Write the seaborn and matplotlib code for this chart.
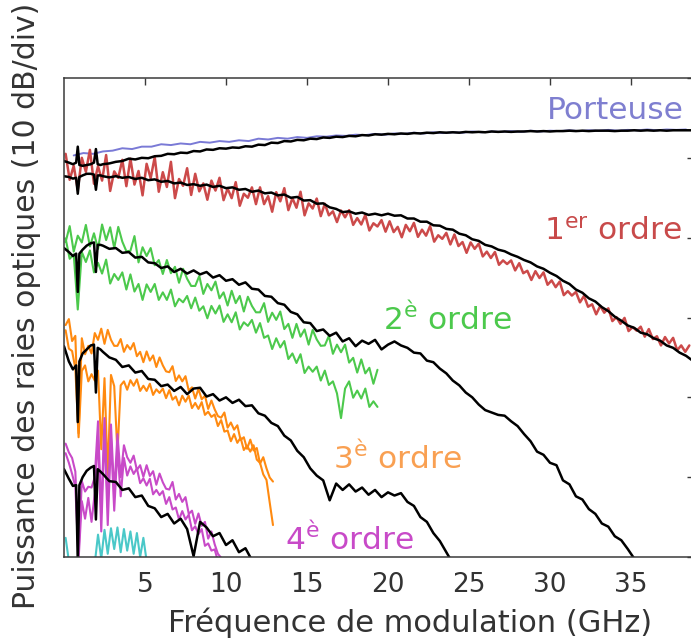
import numpy as np
import matplotlib
matplotlib.use("Agg")
import matplotlib.pyplot as plt
import seaborn as sns

# ---------------------------------------------------------------------------
# Frequency grids (GHz)
# ---------------------------------------------------------------------------
# simulation grid: finer around the two low-frequency resonances, then 0.4 GHz steps
SIM_FREQ_HEAD = [0.0, 0.3, 0.55, 0.75, 0.85, 0.95, 1.15, 1.4, 1.65, 1.85, 1.97, 2.08, 2.25]
SIM_FREQ_TAIL_START, SIM_FREQ_TAIL_STEP = 2.4, 0.4

# measured sweeps: (start, step) in GHz
SWEEP_CARRIER = (0.6, 0.6)
SWEEP_ORDER1 = (0.1, 0.25)
SWEEP_ORDER2 = (0.1, 0.25)
SWEEP_ORDER3 = (0.1, 0.2)
SWEEP_ORDER4 = (0.1, 0.2)
SWEEP_ORDER5 = (0.1, 0.2)

# ---------------------------------------------------------------------------
# Measured line powers (dB, relative)
# ---------------------------------------------------------------------------
meas_carrier = [-9.7, -9.4, -9.5, -9.2, -9.1, -8.8, -8.9, -8.6, -8.6, -8.3, -8.4, -8.2,
                -8.3, -8.0, -8.1, -7.9, -8.0, -7.8, -7.9, -7.6, -7.7, -7.5, -7.6, -7.4,
                -7.5, -7.3, -7.35, -7.2, -7.25, -7.1, -7.15, -7.0, -7.1, -6.95, -7.0, -6.85,
                -6.95, -6.8, -6.9, -6.8, -6.85, -6.7, -6.8, -6.7, -6.75, -6.65, -6.75, -6.6,
                -6.7, -6.6, -6.65, -6.55, -6.65, -6.55, -6.6, -6.5, -6.6, -6.5, -6.55, -6.45,
                -6.55, -6.45, -6.5, -6.45]

meas_order1 = [-9.5, -12.75, -11.0, -14.0, -10.0, -11.75, -9.0, -13.25, -11.05, -12.85, -9.65, -14.15,
               -11.7, -12.5, -10.25, -13.55, -10.1, -13.35, -11.65, -14.7, -10.75, -12.55, -9.9, -14.25,
               -11.8, -13.65, -10.5, -15.05, -12.65, -13.5, -11.3, -14.65,
               -12.0, -14.2, -13.2, -15.25, -12.85, -14.1, -12.5, -15.3, -13.85, -15.05, -13.05, -16.0,
               -14.5, -15.0, -13.7, -15.8, -13.7, -15.8, -14.8, -16.75, -14.3, -15.45, -13.8, -16.55,
               -15.05, -16.25, -14.25, -17.2, -15.7, -16.35, -15.1, -17.3,
               -15.75, -17.2, -16.7, -18.05, -16.6, -17.45, -16.55, -18.4, -17.55, -18.35, -17.15, -19.1,
               -18.2, -18.6, -17.8, -19.25, -17.95, -19.3, -18.65, -19.95, -18.4, -19.2, -18.15, -19.9,
               -19.0, -19.75, -18.55, -20.5, -19.7, -20.15, -19.4, -20.85, -19.6, -21.05, -20.55, -21.9,
               -20.6, -21.4, -20.75, -22.35, -21.75, -22.55, -21.8, -23.4, -22.85, -23.3, -22.85, -24.1,
               -23.2, -24.45, -24.15, -25.3, -24.2, -25.05, -24.35, -25.9, -25.35, -26.2, -25.5, -27.2,
               -26.7, -27.25, -26.8, -28.1, -27.3, -28.65, -28.35, -29.6, -28.55, -29.4, -28.85, -30.45,
               -29.95, -30.8, -30.05, -31.7, -31.2, -31.65, -31.15, -32.4, -31.45, -32.7, -32.35, -33.5,
               -32.45, -33.25, -32.55, -34.1, -33.5, -34.3, -33.5]

meas_order2_a = [-20.55, -18.55, -21.75, -19.75, -20.6, -18.4, -21.1, -19.45, -21.4, -18.35, -20.3, -18.7,
                 -21.3, -18.65, -20.5, -21.7, -21.65, -19.8, -23.1, -21.2,
                 -22.3, -21.3, -23.45, -22.8, -24.55, -22.8, -24.45, -23.65, -25.65, -23.9, -25.15, -26.05,
                 -26.05, -24.8, -27.05, -25.8, -26.6, -25.5, -27.6, -26.85, -28.5, -26.65, -28.2, -27.3,
                 -29.25, -27.4, -28.55, -29.35, -29.35, -28.2, -30.55, -29.4, -30.3, -29.25, -31.45, -30.8,
                 -32.55, -30.8, -32.4, -31.5, -33.4, -31.55, -32.75, -33.55, -33.5, -32.3, -34.55, -33.4,
                 -34.35, -33.4, -35.65, -35.05, -36.9, -35.25, -37.0, -36.3, -38.3, -36.55]

meas_order2_b = [-20.1, -22.65, -22.1, -29.0, -21.8, -23.05, -21.6, -24.35, -23.15, -24.5, -22.75, -25.75,
                 -24.55, -25.3, -24.35, -26.5, -24.6, -26.75, -25.8, -27.8,
                 -25.85, -26.8, -25.8, -27.8, -26.85, -27.8, -26.5, -28.6, -27.65, -28.1, -27.3, -28.85,
                 -27.5, -29.15, -28.6, -30.1, -28.55, -29.5, -28.5, -30.55, -29.6, -30.6, -29.35, -31.5,
                 -30.6, -31.05, -30.3, -31.9, -30.7, -32.55, -32.25, -33.95, -32.6, -33.75, -32.95, -35.2,
                 -34.5, -35.7, -34.6, -36.95, -36.15, -36.8, -36.15, -37.9, -36.65, -38.45, -38.0, -39.5,
                 -42.6, -38.9, -38.0, -40.05, -39.15, -40.15, -38.9, -41.2, -40.5, -41.2]

meas_order3_a = [-30.95, -30.2, -32.95, -32.3, -44.5, -32.6, -34.6, -33.55, -34.5, -31.95, -32.8, -31.4,
                 -33.3, -31.55, -32.8, -33.55, -33.55, -32.7, -34.3, -33.45, -34.0, -33.2, -34.85, -34.3,
                 -35.6, -34.25, -35.4, -34.75, -36.2, -35.0, -36.0, -36.75, -36.85, -36.1, -37.95, -37.25,
                 -38.0, -37.35, -39.15, -38.75, -40.15, -38.95, -40.25, -39.8, -41.45, -40.4, -41.5, -42.35,
                 -42.55, -41.9, -43.8, -43.15, -44.05, -43.5, -45.35, -45.0, -46.45, -45.3, -46.65, -46.35,
                 -48.3, -47.5, -48.9, -50.05, -50.55]

meas_order3_b = [-31.6, -33.9, -34.2, -36.4, -45.0, -36.7, -36.0, -38.0, -37.1, -37.9, -36.65, -46.5,
                 -37.6, -49.8, -37.2, -38.6, -47.0, -38.5, -38.0, -39.05, -37.85, -38.55, -37.75, -39.2,
                 -38.55, -39.2, -38.3, -39.7, -39.0, -39.45, -38.9, -40.1, -39.1, -40.3, -39.9, -41.0,
                 -39.8, -40.55, -39.8, -41.35, -40.7, -41.45, -40.6, -42.2, -41.8, -42.45, -42.15, -43.6,
                 -42.85, -44.3, -44.15, -45.5, -44.6, -45.7, -45.05, -46.6, -46.05, -46.8, -46.0, -47.8,
                 -48.2, -49.65, -50.35, -53.2, -56.0]

meas_order4_a = [-45.8, -46.9, -47.6, -49.3, -59.6, -50.5, -51.8, -51.2, -51.3, -50.0, -43.0, -54.5,
                 -42.6, -53.8, -43.4, -52.0, -44.6, -50.0, -46.0, -47.5, -48.2, -47.3, -49.1, -48.5,
                 -49.95, -48.5, -49.85, -49.25, -50.95, -49.55, -50.65, -51.45, -51.55, -50.6, -52.8, -52.1,
                 -53.1, -52.5, -54.6, -54.2, -55.85, -54.55, -56.1, -55.6, -57.7, -56.8, -58.4, -59.6,
                 -60.1, -60.6]

meas_order4_b = [-47.0, -48.2, -49.6, -51.2, -60.4, -53.0, -55.2, -52.6, -55.6, -52.0, -44.8, -56.8,
                 -44.0, -56.0, -45.2, -54.2, -46.4, -52.4, -47.6, -49.8, -48.65, -49.6, -48.9, -50.75,
                 -50.15, -51.05, -50.2, -52.15, -51.6, -52.25, -51.75, -53.35, -52.5, -54.05, -53.8, -55.3,
                 -54.25, -55.3, -54.7, -56.65, -56.15, -57.15, -56.5, -58.6, -58.3, -59.2, -59.05, -60.5]

meas_order5 = [-57.6, -60.5, -62.0, -63.0, -64.0, -63.0, -63.0, -62.5, -62.0, -60.8, -57.2, -60.2,
               -56.6, -59.6, -56.4, -59.0, -56.3, -59.4, -56.5, -59.2, -56.8, -59.6, -57.0, -60.0,
               -57.6, -60.5]

# ---------------------------------------------------------------------------
# Simulated line powers (dB, relative) on the simulation grid
# ---------------------------------------------------------------------------
sim_carrier = [-10.4, -10.6, -10.8, -10.6, -8.6, -10.9, -11.0, -10.9, -10.8, -10.6, -8.9, -10.8, -10.9,
               -10.8, -10.7, -10.5, -10.4, -10.1, -10.2, -10.0, -10.05, -9.8, -9.75, -9.5, -9.55,
               -9.35, -9.4, -9.15, -9.2, -8.95, -9.0, -8.8, -8.85, -8.7, -8.75, -8.55, -8.6,
               -8.35, -8.4, -8.1, -8.15, -7.9, -7.95, -7.75, -7.8, -7.6, -7.65, -7.45, -7.5,
               -7.35, -7.4, -7.25, -7.3, -7.15, -7.2, -7.05, -7.1, -7.0, -7.05, -6.95, -7.0,
               -6.9, -6.95, -6.85, -6.9, -6.8, -6.85, -6.8, -6.85, -6.75, -6.8, -6.75, -6.8,
               -6.7, -6.75, -6.7, -6.75, -6.7, -6.7, -6.65, -6.7, -6.65, -6.7, -6.65, -6.65,
               -6.6, -6.65, -6.6, -6.65, -6.6, -6.6, -6.6, -6.65, -6.6, -6.6, -6.55, -6.6,
               -6.55, -6.6, -6.55, -6.6, -6.55, -6.55, -6.55, -6.55]

sim_order1 = [-12.3, -12.4, -12.6, -12.5, -14.5, -12.4, -12.2, -12.0, -12.0, -12.1, -14.0, -12.2, -12.2,
              -12.3, -12.45, -12.3, -12.5, -12.4, -12.65, -12.5, -12.8, -12.7, -13.0, -12.9, -13.2,
              -13.1, -13.4, -13.3, -13.5, -13.35, -13.65, -13.5, -13.8, -13.7, -14.0, -13.9, -14.25,
              -14.1, -14.45, -14.35, -14.7, -14.6, -15.0, -14.9, -15.35, -15.3, -15.75, -15.7, -16.2,
              -16.4, -16.8, -16.7, -17.0, -16.85, -17.15, -17.0, -17.2, -17.0, -17.25, -17.2, -17.6,
              -17.6, -18.0, -18.0, -18.45, -18.5, -18.9, -19.0, -19.5, -19.7, -20.2, -20.4, -20.9,
              -21.1, -21.5, -21.7, -22.1, -22.4, -22.8, -23.1, -23.6, -23.9, -24.4, -24.8, -25.4,
              -25.8, -26.5, -26.9, -27.6, -28.0, -28.7, -29.2, -29.9, -30.4, -31.0, -31.3, -31.9,
              -32.1, -32.6, -32.9, -33.5, -33.8, -34.4, -34.8, -35.4]

sim_order2 = [-21.3, -21.8, -22.3, -22.0, -26.8, -22.0, -21.5, -21.0, -20.7, -20.6, -24.3, -20.9, -20.9,
              -21.0, -21.4, -21.3, -21.9, -21.8, -22.5, -22.4, -23.1, -23.2, -23.8, -23.6, -24.3,
              -23.9, -24.5, -24.1, -24.6, -24.3, -25.0, -24.7, -25.4, -25.2, -25.9, -25.6, -26.4,
              -26.5, -27.3, -27.4, -28.2, -28.4, -29.3, -29.6, -30.6, -30.7, -31.7, -31.5, -32.3,
              -31.9, -33.0, -32.6, -33.6, -32.9, -33.3, -32.8, -34.0, -33.4, -33.0, -33.5, -33.8,
              -34.4, -34.5, -35.4, -35.6, -36.4, -37.0, -37.9, -38.5, -39.4, -40.0, -40.9, -41.6,
              -41.9, -42.2, -42.3, -43.0, -43.6, -44.6, -45.5, -46.8, -47.2, -48.2, -48.5, -50.4,
              -50.9, -52.4, -52.8, -54.0, -54.6, -55.8, -56.2, -57.4, -57.9, -59.0, -60.2]

sim_order3 = [-33.6, -35.5, -36.5, -36.0, -43.1, -35.5, -34.5, -34.0, -33.5, -33.4, -39.4, -33.8, -34.0,
              -34.3, -35.0, -35.3, -36.2, -36.0, -36.9, -36.7, -37.7, -37.8, -38.6, -38.4, -39.2,
              -38.7, -39.6, -38.9, -38.8, -39.9, -39.6, -40.4, -40.0, -40.7, -40.3, -41.1, -41.0,
              -42.0, -42.3, -43.2, -43.6, -44.8, -45.4, -46.7, -47.5, -48.9, -49.8, -50.4, -52.9,
              -50.8, -51.6, -50.9, -51.8, -51.3, -52.2, -51.6, -52.5, -51.9, -52.3, -52.0, -53.1,
              -53.6, -55.0, -55.6, -57.0, -58.0, -59.4, -60.8]

sim_order4 = [-49.0, -50.2, -51.1, -51.0, -60.5, -51.0, -50.0, -49.2, -48.8, -48.6, -55.3, -49.0, -49.3,
              -49.6, -50.5, -50.6, -51.6, -51.4, -52.5, -52.3, -53.6, -53.9, -55.0, -54.6, -55.8,
              -55.2, -56.5, -59.9, -55.6, -56.3, -57.4, -57.0, -58.5, -57.9, -59.4, -58.9, -60.4]

# ---------------------------------------------------------------------------
# Labels and colours
# ---------------------------------------------------------------------------
X_TICKS = [5, 10, 15, 20, 25, 30, 35]
Y_TICKS = [-60, -50, -40, -30, -20, -10, 0]
X_LABEL = "Fréquence de modulation (GHz)"
Y_LABEL = "Puissance des raies optiques (10 dB/div)"

LINE_COLORS = {
    "carrier": "#7a7ad6",
    "order1": "#cc4a4a",
    "order2": "#4cc94c",
    "order3": "#ff8a10",
    "order4": "#c84ac8",
    "order5": "#4ac8c8",
}
LINE_WIDTHS = {
    "carrier": 1.4,
    "order1": 1.8,
    "order2": 1.5,
    "order3": 1.5,
    "order4": 1.5,
    "order5": 1.5,
}
TEXT_COLORS = {
    "carrier": "#7f7fd0",
    "order1": "#c84a4a",
    "order2": "#4cc94c",
    "order3": "#f9a052",
    "order4": "#c84ac8",
}


def sweep(start_step, values):
    start, step = start_step
    return start + step * np.arange(len(values))


sim_freq = np.concatenate([
    np.array(SIM_FREQ_HEAD),
    np.arange(SIM_FREQ_TAIL_START, 39.0, SIM_FREQ_TAIL_STEP),
])


def sim_x(values):
    return sim_freq[:len(values)]


# ---------------------------------------------------------------------------
# Figure
# ---------------------------------------------------------------------------
sns.set_style("white")
plt.rcParams["font.family"] = ["DejaVu Sans"]

W, H = 691, 644
fig = plt.figure(figsize=(W / 100, H / 100), dpi=100)
ax_left, ax_right, ax_top, ax_bottom = 64, 694, 78, 557
ax = fig.add_axes([ax_left / W, 1 - ax_bottom / H, (ax_right - ax_left) / W, (ax_bottom - ax_top) / H])

sim_lw = 1.8

measured = [
    (SWEEP_CARRIER, meas_carrier, "carrier"),
    (SWEEP_ORDER1, meas_order1, "order1"),
    (SWEEP_ORDER2, meas_order2_a, "order2"),
    (SWEEP_ORDER2, meas_order2_b, "order2"),
    (SWEEP_ORDER3, meas_order3_a, "order3"),
    (SWEEP_ORDER3, meas_order3_b, "order3"),
    (SWEEP_ORDER4, meas_order4_a, "order4"),
    (SWEEP_ORDER4, meas_order4_b, "order4"),
    (SWEEP_ORDER5, meas_order5, "order5"),
]
for grid, vals, key in measured:
    sns.lineplot(x=sweep(grid, vals), y=vals, color=LINE_COLORS[key], linewidth=LINE_WIDTHS[key],
                 estimator=None, sort=False, ax=ax)

for vals in [sim_carrier, sim_order1, sim_order2, sim_order3, sim_order4]:
    sns.lineplot(x=sim_x(vals), y=vals, color="black", linewidth=sim_lw,
                 estimator=None, sort=False, ax=ax)

ax.set_xlim(0, (ax_right - ax_left) / 16.2)
ax.set_ylim(-60, 0)
ax.set_xticks(X_TICKS)
ax.set_xticklabels([str(t) for t in X_TICKS])
ax.set_yticks(Y_TICKS)
ax.set_yticklabels([])

spine_color = "#3a3a3a"
for s in ax.spines.values():
    s.set_color(spine_color)
    s.set_linewidth(1.1)
ax.tick_params(axis="both", direction="in", top=True, right=True, length=5,
               width=1.0, color=spine_color)
ax.tick_params(axis="x", labelsize=19, labelcolor="#333333", pad=11)

ax.set_xlabel(X_LABEL, fontsize=22, color="#333333")
ax.set_ylabel(Y_LABEL, fontsize=21.5, color="#333333")
ax.xaxis.set_label_coords(0.549, -0.105)
ax.yaxis.set_label_coords(-0.036, 0.524)

# Order annotations
lab_fs = 22.5
ax.text(0.984, 0.933, "Porteuse", transform=ax.transAxes, ha="right", va="center",
        fontsize=lab_fs, color=TEXT_COLORS["carrier"])
ax.text(0.981, 0.68, r"1$^{\mathrm{er}}$ ordre", transform=ax.transAxes, ha="right", va="center",
        fontsize=lab_fs, color=TEXT_COLORS["order1"])
ax.text(0.506, 0.497, r"2$^{\mathrm{è}}$ ordre", transform=ax.transAxes, ha="left", va="center",
        fontsize=lab_fs, color=TEXT_COLORS["order2"])
ax.text(0.427, 0.207, r"3$^{\mathrm{è}}$ ordre", transform=ax.transAxes, ha="left", va="center",
        fontsize=lab_fs, color=TEXT_COLORS["order3"])
ax.text(0.351, 0.036, r"4$^{\mathrm{è}}$ ordre", transform=ax.transAxes, ha="left", va="center",
        fontsize=lab_fs, color=TEXT_COLORS["order4"])

fig.savefig("out.png", dpi=100)
